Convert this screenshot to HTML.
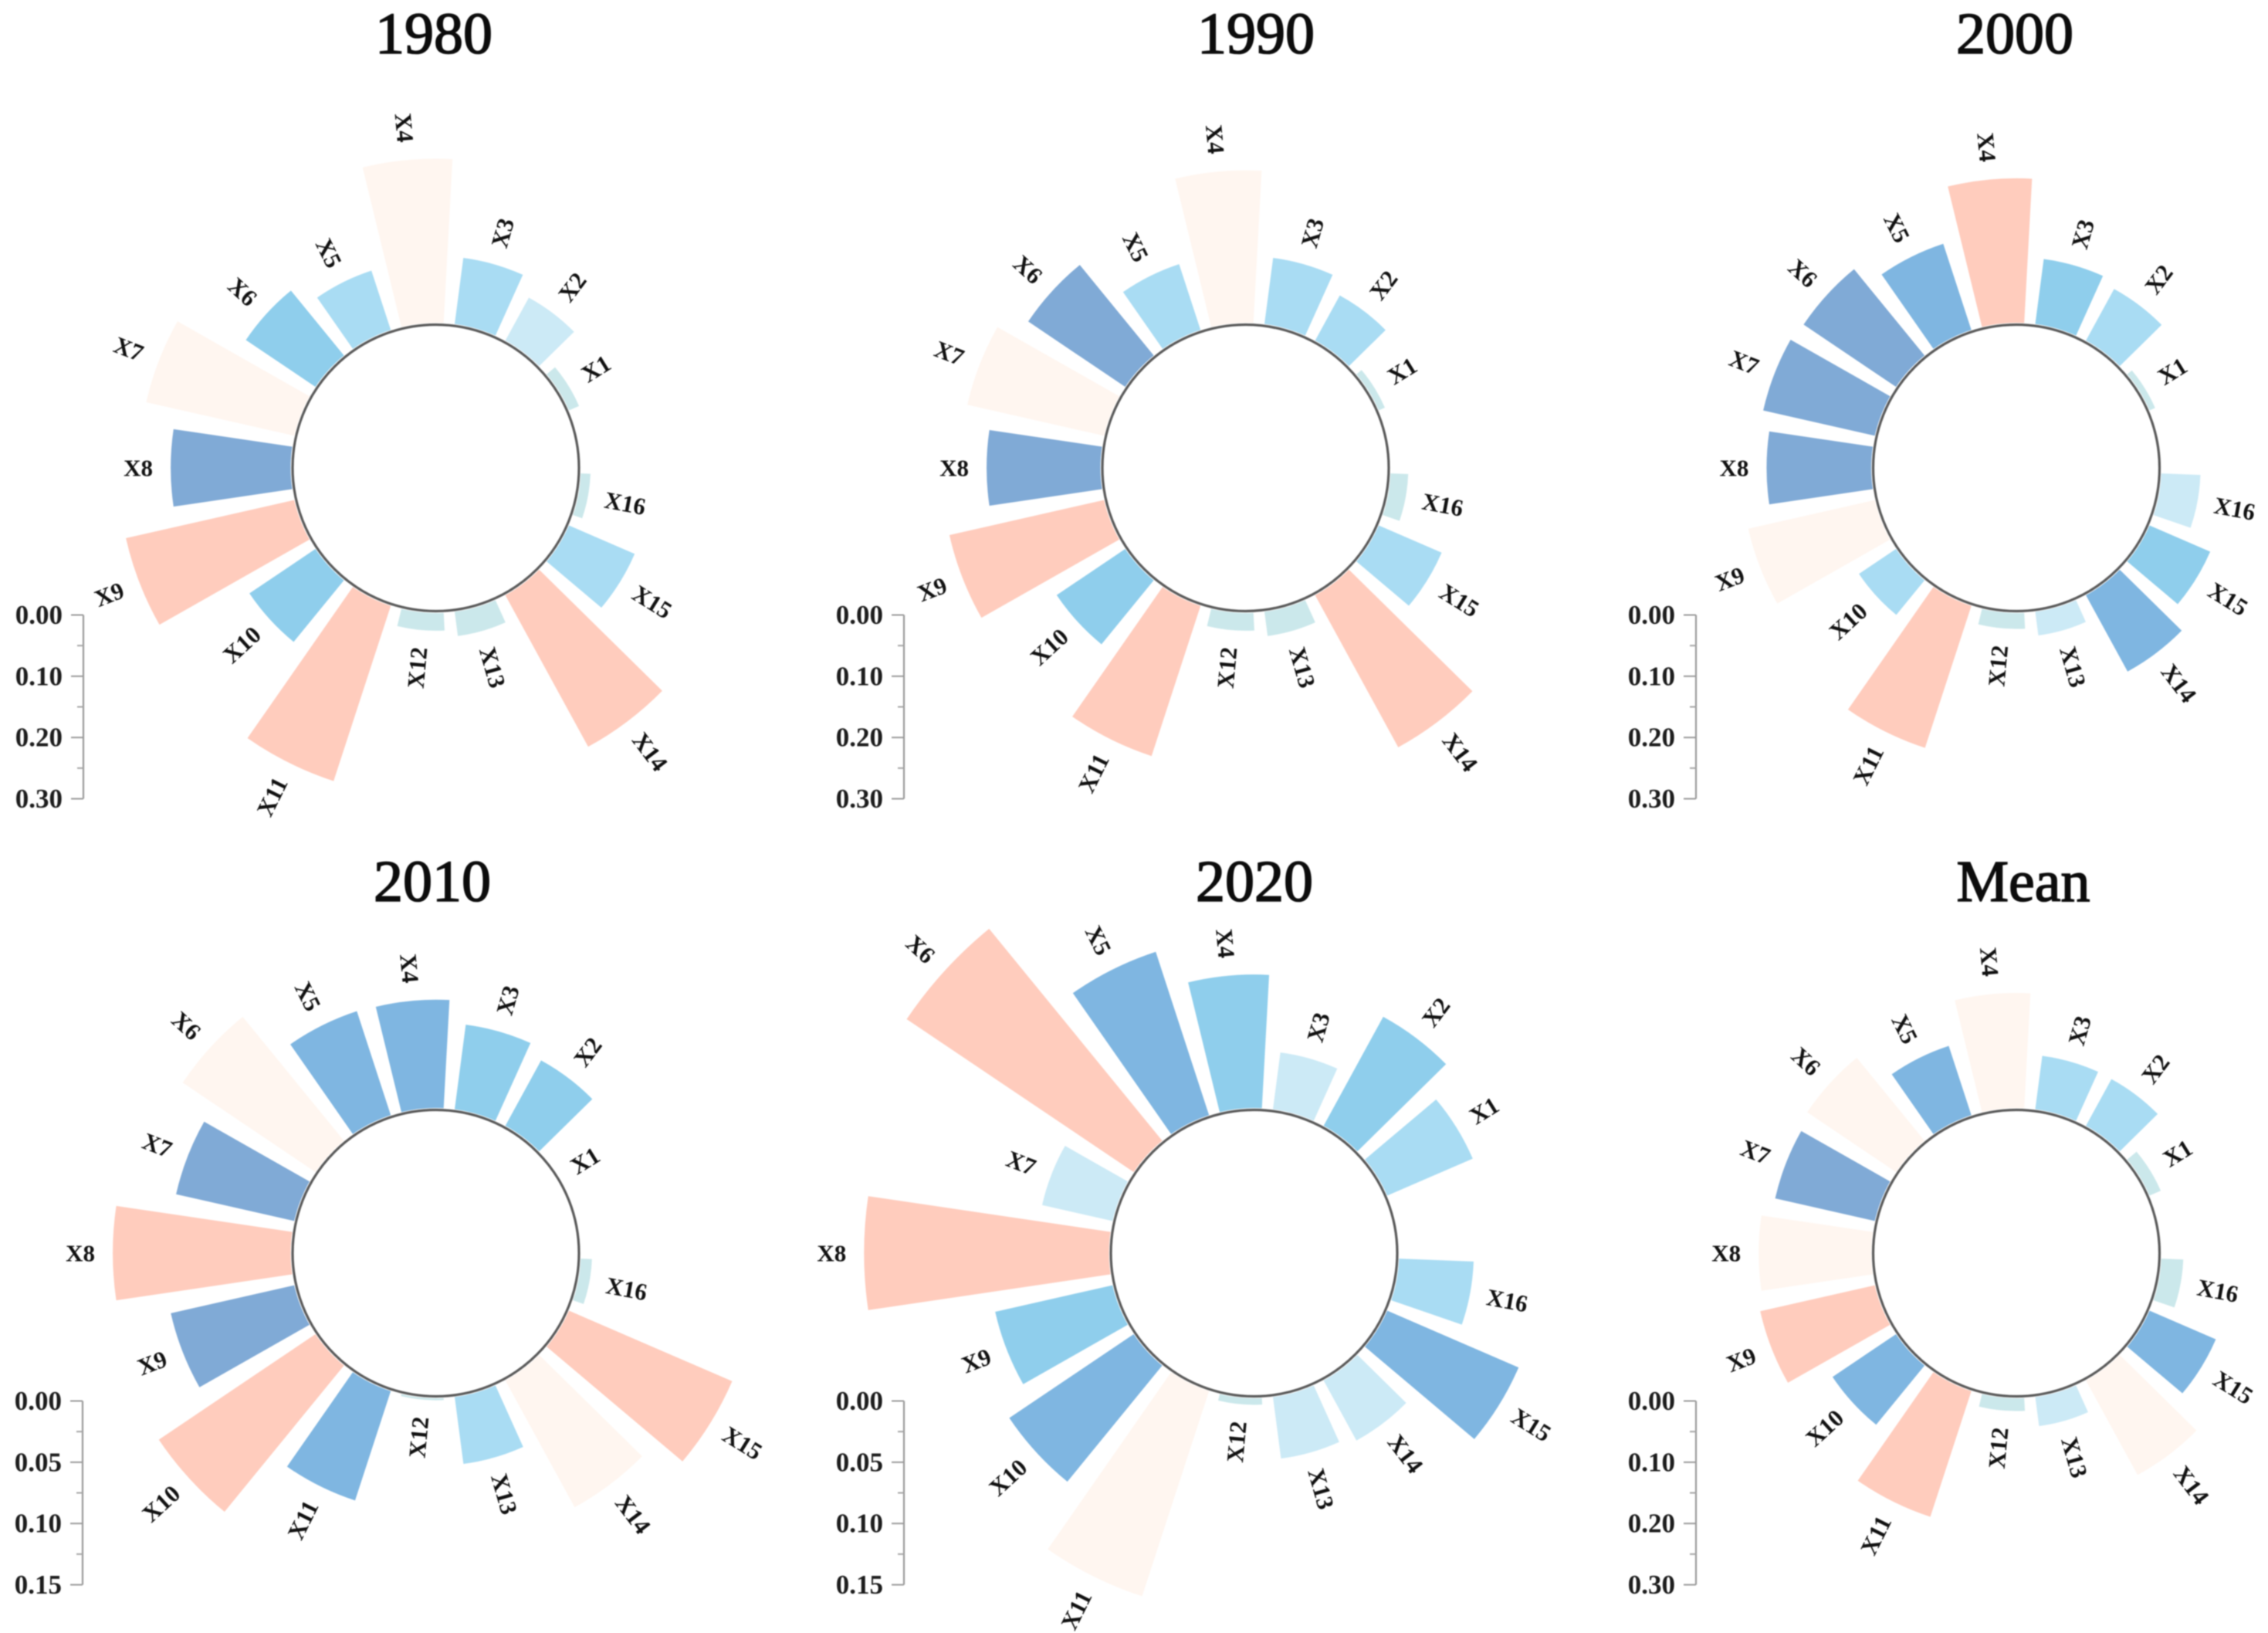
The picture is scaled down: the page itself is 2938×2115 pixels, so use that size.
<!DOCTYPE html>
<html lang="en">
<head>
<meta charset="utf-8">
<title>Polar bar charts of X1 to X16 by year</title>
<style>
  html, body { margin: 0; padding: 0; background: #ffffff; }
  svg { display: block; filter: blur(0.7px); }
  text { font-family: "Liberation Serif", serif; }
</style>
</head>
<body>
<svg id="figure" xmlns="http://www.w3.org/2000/svg" width="2938" height="2115" viewBox="0 0 2938 2115">
  <rect x="0" y="0" width="2938" height="2115" fill="#ffffff"></rect>
</svg>
<script>
// ---- data ----
const categories = ['X1','X2','X3','X4','X5','X6','X7','X8','X9','X10','X11','X12','X13','X14','X15','X16'];

const titles = ['1980','1990','2000','2010','2020','Mean'];

const values1980 = [0.021,0.083,0.112,0.271,0.105,0.140,0.251,0.199,0.285,0.133,0.304,0.032,0.043,0.285,0.120,0.019];
const values1990 = [0.014,0.087,0.112,0.252,0.116,0.194,0.232,0.189,0.262,0.138,0.261,0.032,0.043,0.286,0.115,0.032];
const values2000 = [0.013,0.099,0.110,0.239,0.151,0.185,0.190,0.174,0.215,0.076,0.247,0.029,0.042,0.145,0.111,0.067];
const values2010 = [0.0000,0.0624,0.0712,0.0900,0.0908,0.1322,0.1005,0.1468,0.1049,0.1557,0.0955,0.0032,0.0566,0.1195,0.1467,0.0107];
const values2020 = [0.0776,0.1030,0.0483,0.1105,0.1418,0.2250,0.0605,0.2015,0.0998,0.1240,0.1777,0.0069,0.0522,0.0574,0.1184,0.0625];
const valuesMean = [0.023,0.090,0.091,0.191,0.122,0.178,0.170,0.187,0.195,0.128,0.219,0.024,0.051,0.179,0.121,0.039];

// colour bin of every bar (0 = lowest bin ... 7 = highest bin)
const bins1980 = [0,1,2,6,2,3,6,5,7,3,7,0,0,7,2,0];
const bins1990 = [0,2,2,6,2,5,6,5,7,3,7,0,0,7,2,0];
const bins2000 = [0,2,3,7,4,5,5,5,6,2,7,0,1,4,3,1];
const bins2010 = [0,3,3,4,4,6,5,7,5,7,4,0,2,6,7,0];
const bins2020 = [2,3,1,3,4,7,1,7,3,4,6,0,1,1,4,2];
const binsMean = [0,2,2,6,4,6,5,6,7,4,7,0,1,6,4,0];

const ticks030 = ['0.00','0.10','0.20','0.30'];
const ticks015 = ['0.00','0.05','0.10','0.15'];

const allValues = [values1980, values1990, values2000, values2010, values2020, valuesMean];
const allBins = [bins1980, bins1990, bins2000, bins2010, bins2020, binsMean];
const allTicks = [ticks030, ticks030, ticks030, ticks015, ticks015, ticks030];

// ---- layout and style (not data) ----
const palette = ['#CBE8EB','#CCEAF6','#A9DCF3','#8FCEEC','#7FB6E1','#80AAD6','#FFF6F0','#FFCCBD'];
const layout = [
  { cx: 564.5,  cy: 606,  titleX: 562,  titleY: 69,   axisX: 108,  axisTop: 796.5 },
  { cx: 1613.5, cy: 606,  titleX: 1627, titleY: 69,   axisX: 1171, axisTop: 796.5 },
  { cx: 2612,   cy: 606,  titleX: 2610, titleY: 69,   axisX: 2197, axisTop: 796.5 },
  { cx: 564.5,  cy: 1623, titleX: 560,  titleY: 1167, axisX: 107,  axisTop: 1814.5 },
  { cx: 1624.5, cy: 1623, titleX: 1625, titleY: 1167, axisX: 1171, axisTop: 1814.5 },
  { cx: 2612,   cy: 1623, titleX: 2621, titleY: 1167, axisX: 2197, axisTop: 1814.5 }
];
const HOLE_R = 185.5;
const BAR_START = 188;
const AXIS_LEN = 238;
const STEP = 360 / 17;
const HALF_WIDTH = 8.4;

const NS = 'http://www.w3.org/2000/svg';
const figure = document.getElementById('figure');

function make(tag, parent, attrs, text) {
  const el = document.createElementNS(NS, tag);
  for (const k in attrs) el.setAttribute(k, attrs[k]);
  if (text !== undefined) el.textContent = text;
  parent.appendChild(el);
  return el;
}

// axis functions
function radiusLength(value, maxValue) { return value / maxValue * AXIS_LEN; }
function categoryAngle(index) { return STEP / 2 + STEP * (index + 1); }
function polar(cx, cy, r, deg) {
  const a = deg * Math.PI / 180;
  return [cx + r * Math.cos(a), cy - r * Math.sin(a)];
}

function wedgePath(cx, cy, r0, r1, deg) {
  const a = polar(cx, cy, r0, deg - HALF_WIDTH);
  const b = polar(cx, cy, r1, deg - HALF_WIDTH);
  const c = polar(cx, cy, r1, deg + HALF_WIDTH);
  const d = polar(cx, cy, r0, deg + HALF_WIDTH);
  return 'M' + a[0] + ' ' + a[1] + 'L' + b[0] + ' ' + b[1] +
         'A' + r1 + ' ' + r1 + ' 0 0 0 ' + c[0] + ' ' + c[1] +
         'L' + d[0] + ' ' + d[1] +
         'A' + r0 + ' ' + r0 + ' 0 0 1 ' + a[0] + ' ' + a[1] + 'Z';
}

function drawAxis(panel, box, labels, maxValue) {
  const axis = make('g', panel, {});
  
  
  const line = make('line', axis, { x1: box.axisX, x2: box.axisX, y1: box.axisTop, y2: box.axisTop + AXIS_LEN, stroke: '#9a9a9a', 'stroke-width': 2.2 });
  
  
  labels.forEach(function (label, i) {
    const y = box.axisTop + radiusLength(parseFloat(label), maxValue);
    const tick = make('line', axis, { x1: box.axisX - 16, x2: box.axisX, y1: y, y2: y, stroke: '#9a9a9a', 'stroke-width': 2 });
    
    
    const t = make('text', axis, { x: box.axisX - 27, y: y, 'text-anchor': 'end', 'dominant-baseline': 'central', 'font-size': 35, 'font-weight': 700, fill: '#1c1c1c' }, label);
    
    
    if (i < labels.length - 1) {
      const next = parseFloat(labels[i + 1]);
      const my = box.axisTop + radiusLength((parseFloat(label) + next) / 2, maxValue);
      const minor = make('line', axis, { x1: box.axisX - 8, x2: box.axisX, y1: my, y2: my, stroke: '#a5a5a5', 'stroke-width': 2 });
      
      
    }
  });
}

function drawPanel(index) {
  const box = layout[index];
  const values = allValues[index];
  const bins = allBins[index];
  const ticks = allTicks[index];
  const maxValue = parseFloat(ticks[ticks.length - 1]);
  const year = titles[index].toLowerCase();

  const panel = make('g', figure, {});
  
  

  const title = make('text', panel, { x: box.titleX, y: box.titleY, 'text-anchor': 'middle', 'font-size': 76, fill: '#0c0c0c', stroke: '#0c0c0c', 'stroke-width': 1.6 }, titles[index]);
  
  

  categories.forEach(function (cat, i) {
    const deg = categoryAngle(i);
    const outer = HOLE_R + radiusLength(values[i], maxValue);
    if (outer > BAR_START) {
      const bar = make('path', panel, { d: wedgePath(box.cx, box.cy, BAR_START, outer, deg), fill: palette[bins[i]] });
      
      
    }
    const halfText = cat.length > 2 ? 26 : 19;
    const pos = polar(box.cx, box.cy, outer + 23 + halfText, deg);
    const rot = (deg > 90 && deg < 270) ? 180 - deg : -deg;
    const label = make('text', panel, {
      x: pos[0], y: pos[1], 'text-anchor': 'middle', 'dominant-baseline': 'central',
      'font-size': 31, 'font-weight': 700, fill: '#111111',
      transform: 'rotate(' + rot + ' ' + pos[0] + ' ' + pos[1] + ')'
    }, cat);
    
    
  });

  const hole = make('circle', panel, { cx: box.cx, cy: box.cy, r: HOLE_R, fill: '#ffffff', stroke: '#5a5a5a', 'stroke-width': 3.2 });
  
  

  drawAxis(panel, box, ticks, maxValue);
}

titles.forEach(function (_, i) { drawPanel(i); });
</script>
</body>
</html>
